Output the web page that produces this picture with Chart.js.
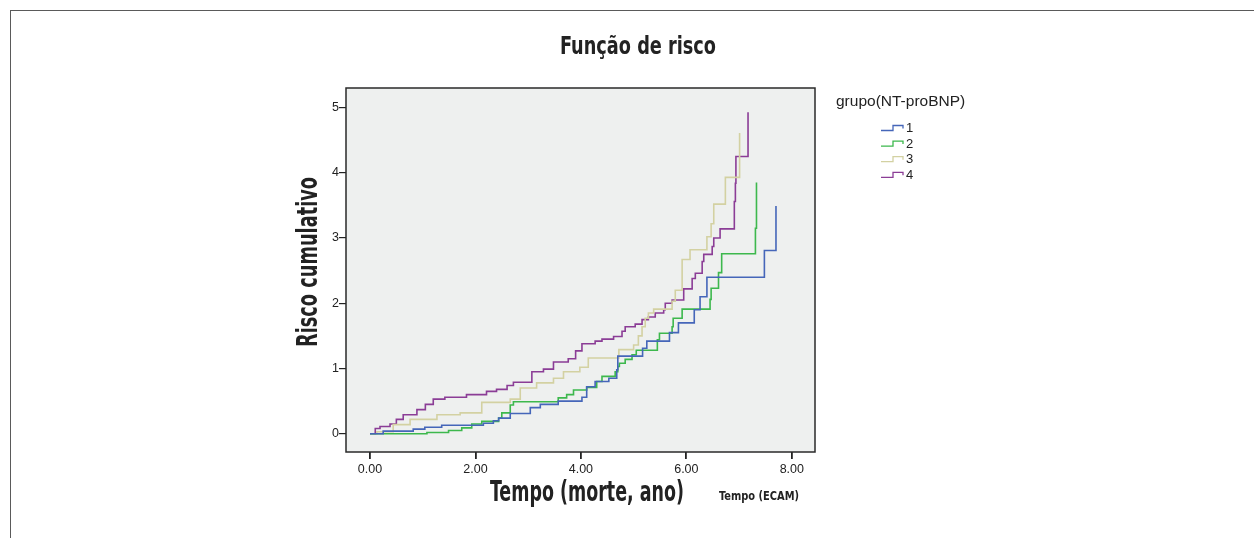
<!DOCTYPE html>
<html lang="pt">
<head>
    <meta charset="UTF-8">
    <title>Função de risco</title>
    <script src="https://cdn.jsdelivr.net/npm/chart.js"></script>
    <style>
        body { margin: 0; background: #fff; }
        #frame { position: absolute; left: 10px; top: 10px; width: 1244px; height: 528px;
                 border-top: 1.5px solid #5a5a5a; border-left: 1.5px solid #5a5a5a; }
        canvas { position: absolute; left: 0; top: 0; }
    </style>
</head>
<body>
    <div id="frame"></div>
    <canvas id="riskChart" width="1254" height="538"></canvas>

    <script>
        // tempo (anos) e risco cumulativo por grupo
        let g1Time = [0, 0.25, 0.82, 1.04, 1.36, 2.15, 2.34, 2.44, 2.66, 3.04, 3.23, 3.57, 4.02, 4.11, 4.27, 4.53, 4.68, 4.70, 5.17, 5.25, 5.68, 5.85, 6.15, 6.26, 6.39, 7.48, 7.70];
        let g1Risk = [0, 0.04, 0.07, 0.10, 0.13, 0.16, 0.20, 0.24, 0.31, 0.40, 0.45, 0.50, 0.56, 0.72, 0.80, 0.85, 0.98, 1.19, 1.31, 1.42, 1.55, 1.70, 1.90, 2.10, 2.40, 2.81, 3.49];

        let g2Time = [0, 1.08, 1.49, 1.74, 1.93, 2.12, 2.44, 2.50, 2.66, 2.72, 3.57, 3.73, 3.86, 4.11, 4.30, 4.40, 4.65, 4.70, 4.73, 4.84, 4.97, 5.05, 5.45, 5.49, 5.73, 5.75, 5.92, 6.45, 6.47, 6.61, 6.67, 7.31, 7.33];
        let g2Risk = [0, 0.02, 0.05, 0.09, 0.15, 0.19, 0.24, 0.32, 0.44, 0.49, 0.55, 0.60, 0.67, 0.71, 0.80, 0.88, 0.95, 1.03, 1.08, 1.14, 1.21, 1.28, 1.44, 1.54, 1.64, 1.77, 1.91, 2.06, 2.23, 2.47, 2.76, 3.15, 3.85];

        let g3Time = [0, 0.13, 0.44, 0.76, 1.27, 1.71, 2.12, 2.66, 2.85, 3.16, 3.48, 3.67, 3.98, 4.14, 4.72, 5.00, 5.09, 5.16, 5.22, 5.28, 5.38, 5.73, 5.79, 5.92, 6.07, 6.39, 6.47, 6.52, 6.74, 7.01];
        let g3Risk = [0, 0.03, 0.14, 0.22, 0.29, 0.32, 0.48, 0.53, 0.70, 0.78, 0.85, 0.95, 1.02, 1.16, 1.29, 1.36, 1.50, 1.64, 1.77, 1.85, 1.91, 2.03, 2.20, 2.67, 2.82, 3.02, 3.22, 3.52, 3.93, 4.61];

        let g4Time = [0, 0.10, 0.19, 0.38, 0.50, 0.63, 0.89, 1.05, 1.20, 1.42, 1.83, 2.21, 2.40, 2.60, 2.72, 3.07, 3.29, 3.48, 3.76, 3.90, 4.02, 4.27, 4.40, 4.62, 4.78, 4.84, 5.03, 5.16, 5.28, 5.41, 5.57, 5.60, 5.73, 5.95, 6.11, 6.17, 6.30, 6.33, 6.49, 6.52, 6.64, 6.91, 6.93, 6.94, 7.17];
        let g4Risk = [0, 0.08, 0.11, 0.15, 0.22, 0.29, 0.37, 0.45, 0.53, 0.56, 0.60, 0.65, 0.68, 0.74, 0.79, 0.95, 0.99, 1.10, 1.15, 1.27, 1.38, 1.42, 1.45, 1.49, 1.57, 1.64, 1.68, 1.75, 1.79, 1.85, 1.90, 2.00, 2.05, 2.22, 2.38, 2.46, 2.64, 2.75, 2.87, 3.00, 3.14, 3.56, 3.84, 4.25, 4.93];

        let groupNames = ["1", "2", "3", "4"];
        let groupColors = ["#4566b9", "#3db84d", "#d3d1a2", "#8b3d96"];
        let xTicks = [0, 2, 4, 6, 8];
        let yTicks = [0, 1, 2, 3, 4, 5];

        function toPoints(t, r) {
            return t.map((v, i) => ({ x: v, y: r[i] }));
        }
        let series = [[g1Time, g1Risk], [g2Time, g2Risk], [g3Time, g3Risk], [g4Time, g4Risk]];

        let cond = '"DejaVu Sans Condensed", "Liberation Sans", sans-serif';

        // texto condensado: comprime na horizontal até a largura pedida
        function narrowText(c, text, x, y, width, angle) {
            c.save();
            c.translate(x, y);
            if (angle) c.rotate(angle);
            let w = c.measureText(text).width;
            c.scale(width / w, 1);
            c.fillText(text, 0, 0);
            c.restore();
        }

        // fundo, moldura, títulos e legenda
        let decor = {
            id: "decor",
            beforeDatasetsDraw(chart) {
                let a = chart.chartArea, c = chart.ctx;
                c.save();
                c.fillStyle = "#eef0ef";
                c.fillRect(a.left, a.top, a.right - a.left, a.bottom - a.top);
                c.restore();
            },
            afterDraw(chart) {
                let a = chart.chartArea, c = chart.ctx;
                c.save();
                c.strokeStyle = "#2a2a2a";
                c.lineWidth = 1.5;
                c.strokeRect(a.left, a.top, a.right - a.left, a.bottom - a.top);

                c.fillStyle = "#222";
                c.textAlign = "center";
                c.textBaseline = "middle";
                c.font = "bold 25px " + cond;
                narrowText(c, "Função de risco", 638, 47, 156);
                c.font = "bold 28px " + cond;
                narrowText(c, "Tempo (morte, ano)", 587, 494, 194);
                c.font = "bold 13px " + cond;
                narrowText(c, "Tempo (ECAM)", 759, 497, 80);
                c.font = "bold 28px " + cond;
                narrowText(c, "Risco cumulativo", 310, 262, 170, -Math.PI / 2);
                c.restore();

                // legenda
                c.save();
                c.fillStyle = "#222";
                c.textAlign = "left";
                c.textBaseline = "middle";
                c.font = '15.5px "Liberation Sans", Arial, sans-serif';
                c.fillText("grupo(NT-proBNP)", 836, 102);
                c.font = '13px "Liberation Sans", Arial, sans-serif';
                chart.data.datasets.forEach((ds, i) => {
                    let y = 128 + i * 15.6;
                    c.strokeStyle = ds.borderColor;
                    c.lineWidth = 1.3;
                    c.beginPath();
                    c.moveTo(881, y + 2.5);
                    c.lineTo(893, y + 2.5);
                    c.lineTo(893, y - 2.5);
                    c.lineTo(903, y - 2.5);
                    c.lineTo(903, y + 0.5);
                    c.stroke();
                    c.fillText(ds.label, 906, y + 0.5);
                });
                c.restore();
            }
        };

        let ctx = document.getElementById("riskChart").getContext("2d");
        let chart = new Chart(ctx, {
            type: "line",
            data: {
                datasets: series.map((s, i) => ({
                    label: groupNames[i],
                    data: toPoints(s[0], s[1]),
                    borderColor: groupColors[i],
                    borderWidth: 1.6,
                    stepped: "before",
                    pointRadius: 0,
                    fill: false
                }))
            },
            options: {
                responsive: false,
                animation: false,
                layout: { padding: { left: 290, right: 439, top: 88, bottom: 50 } },
                plugins: { legend: { display: false }, tooltip: { enabled: false } },
                scales: {
                    x: {
                        type: "linear",
                        min: -0.455,
                        max: 8.44,
                        afterFit(scale) { scale.height = 36; },
                        afterBuildTicks(scale) { scale.ticks = xTicks.map(v => ({ value: v })); },
                        grid: { drawOnChartArea: false, drawTicks: true, tickLength: 7, color: "#222", lineWidth: 1.8 },
                        border: { display: false },
                        ticks: {
                            color: "#222",
                            padding: 3,
                            maxRotation: 0,
                            font: { family: '"Liberation Sans", Arial, sans-serif', size: 12.5 },
                            callback: v => v.toFixed(2)
                        }
                    },
                    y: {
                        type: "linear",
                        min: -0.28,
                        max: 5.30,
                        afterFit(scale) { scale.width = 56; },
                        afterBuildTicks(scale) { scale.ticks = yTicks.map(v => ({ value: v })); },
                        grid: { drawOnChartArea: false, drawTicks: true, tickLength: 7, color: "#222", lineWidth: 1.2 },
                        border: { display: false },
                        ticks: {
                            color: "#222",
                            padding: 0,
                            font: { family: '"Liberation Sans", Arial, sans-serif', size: 12.5 },
                            callback: v => String(v)
                        }
                    }
                }
            },
            plugins: [decor]
        });
    </script>
</body>
</html>
